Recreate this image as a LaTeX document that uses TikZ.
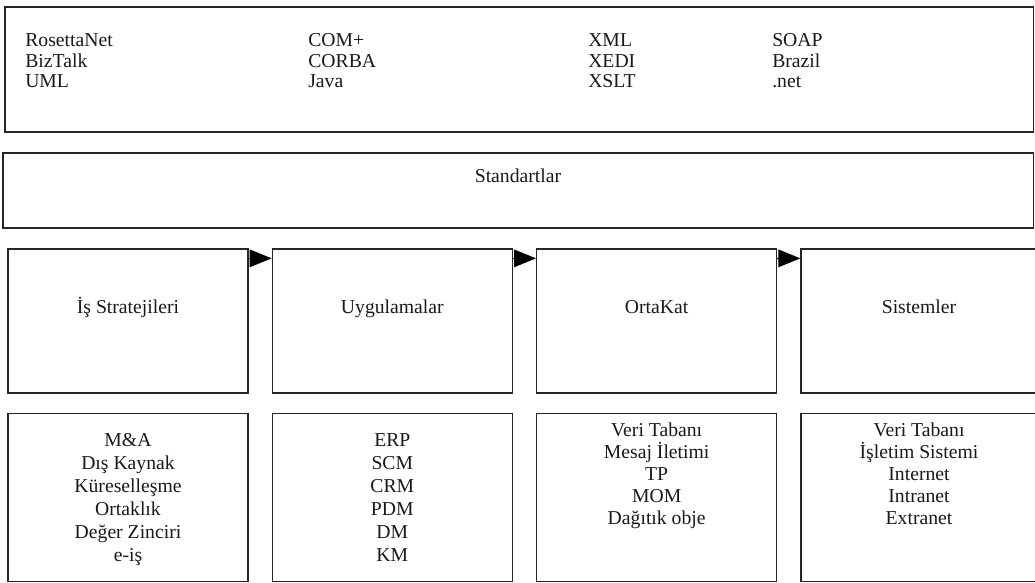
\documentclass[tikz,border=0pt]{standalone}
\usepackage{fontspec}
\setmainfont{Liberation Serif}
\usetikzlibrary{positioning, arrows.meta}

\begin{document}
\begin{tikzpicture}[
		x=0.025cm, y=-0.025cm,
		node distance=0.475cm and 0.575cm,
		box/.style={draw=black!85, line width=0.9pt, inner sep=0pt},
		layerbox/.style={box, minimum width=6cm, minimum height=3.6cm},
		listbox/.style={box, minimum width=6cm, minimum height=4.2cm},
		txt/.style={font=\fontsize{14}{14.6}\selectfont, text=black!90, inner sep=0pt},
		coltext/.style={txt, align=left, anchor=north west},
		layertext/.style={txt, anchor=base},
		listtext/.style={txt, font=\fontsize{14}{16.4}\selectfont, align=center, anchor=north},
		flow/.style={-{Triangle[length=0.55cm, width=0.44cm]}, line width=0.9pt, draw=black}
		]
		
		\useasboundingbox (0,0) rectangle (1035,583);
		
		% TECHNOLOGIES (Top)
		\node[box, minimum width=25.7cm, minimum height=3.125cm] (tech) at (519,69.5) {};
		\node[coltext] (colA) at (25,33.5) {RosettaNet\\BizTalk\\UML};
		\node[coltext] (colB) at (308,33.5) {COM+\\CORBA\\Java};
		\node[coltext] (colC) at (588,33.5) {XML\\XEDI\\XSLT};
		\node[coltext] (colD) at (772,33.5) {SOAP\\Brazil\\.net};
		
		% STANDARDS
		\node[box, minimum width=25.75cm, minimum height=1.875cm] (std) at (518,190.5) {};
		\node[layertext] (stdtext) at ([yshift=0.21cm]std.center) {Standartlar};
		
		% LAYERS (Middle row)
		\node[layerbox] (strat) at (128,321) {};
		\node[layerbox, right=of strat] (apps) {};
		\node[layerbox, right=of apps] (mware) {};
		\node[layerbox, right=of mware, minimum width=5.9cm] (sys) {};
		
		\node[layertext] (strattext) at ([yshift=0.19cm]strat.center) {İş Stratejileri};
		\node[layertext] (appstext) at ([yshift=0.19cm]apps.center) {Uygulamalar};
		\node[layertext] (mwaretext) at ([yshift=0.19cm]mware.center) {OrtaKat};
		\node[layertext] (systext) at ([yshift=0.19cm]sys.center) {Sistemler};
		
		% LISTS (Bottom row)
		\node[listbox, below=of strat] (stratlist) {};
		\node[listbox, below=of apps] (appslist) {};
		\node[listbox, below=of mware] (mwarelist) {};
		\node[listbox, below=of sys, minimum width=5.9cm] (syslist) {};
		
		\node[listtext] (stratitems) at ([yshift=-0.51cm]stratlist.north) {M\&A\\Dış Kaynak\\Küreselleşme\\Ortaklık\\Değer Zinciri\\e-iş};
		\node[listtext] (appsitems) at ([yshift=-0.51cm]appslist.north) {ERP\\SCM\\CRM\\PDM\\DM\\KM};
		\node[listtext, font=\fontsize{14}{15.5}\selectfont] (mwareitems) at ([yshift=-0.26cm]mwarelist.north) {Veri Tabanı\\Mesaj İletimi\\TP\\MOM\\Dağıtık obje};
		\node[listtext, font=\fontsize{14}{15.5}\selectfont] (sysitems) at ([yshift=-0.26cm]syslist.north) {Veri Tabanı\\İşletim Sistemi\\Internet\\Intranet\\Extranet};
		
		% CONNECTIONS
		\draw[flow] ([yshift=-0.25cm]strat.north east) -- ([yshift=-0.25cm]apps.north west);
		\draw[flow] ([yshift=-0.25cm]apps.north east) -- ([yshift=-0.25cm]mware.north west);
		\draw[flow] ([yshift=-0.25cm]mware.north east) -- ([yshift=-0.25cm]sys.north west);
		
	\end{tikzpicture}
\end{document}
